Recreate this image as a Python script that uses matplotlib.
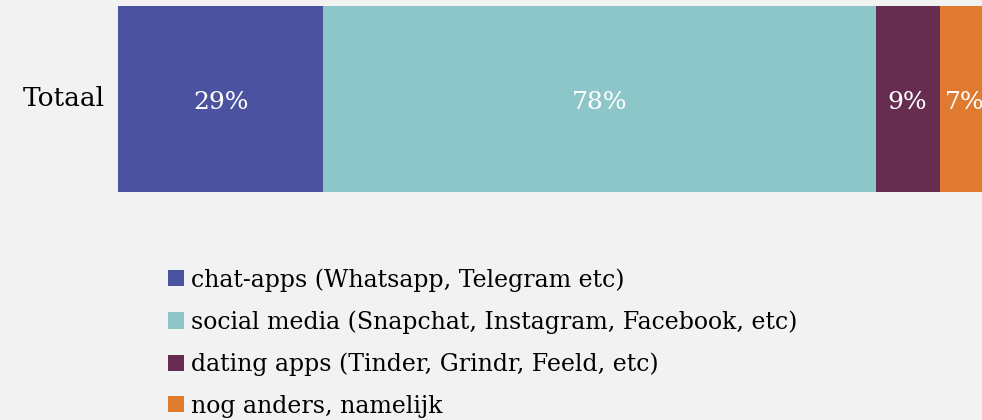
import matplotlib
matplotlib.use("Agg")
import matplotlib.pyplot as plt

categories = ["Totaal"]
series_names = [
    "chat-apps (Whatsapp, Telegram etc)",
    "social media (Snapchat, Instagram, Facebook, etc)",
    "dating apps (Tinder, Grindr, Feeld, etc)",
    "nog anders, namelijk",
]
values = [29, 78, 9, 7]
colors = ["#4B53A0", "#8CC6C8", "#662D50", "#E07A30"]

plt.rcParams["font.family"] = ["DejaVu Serif"]
bg = "#F2F2F2"
fs = 18
lfs = 17
fig = plt.figure(figsize=(9.82, 4.2), dpi=100, facecolor=bg)
ax = fig.add_axes([118 / 982, 1 - 192 / 420, 1 - 118 / 982, 186 / 420])
ax.set_facecolor(bg)

left = 0
handles = []
for name, v, c in zip(series_names, values, colors):
    b = ax.barh(0, v, left=left, height=1.0, color=c, label=name)
    handles.append(b)
    ax.text(left + v / 2, -0.054, f"{v}%", ha="center", va="baseline",
            color="white", fontsize=fs)
    left += v

ax.set_xlim(0, 122.0)
ax.set_ylim(-0.5, 0.5)
ax.set_yticks([])
ax.text(-13 / 7.07, -0.04, categories[0], ha="right", va="baseline",
        fontsize=19, color="black")
ax.set_xticks([])
for s in ax.spines.values():
    s.set_visible(False)

fig.legend(handles=handles, labels=series_names, loc="upper left",
           bbox_to_anchor=(168 / 982, 1 - 268 / 420), frameon=False,
           fontsize=lfs, handlelength=0.68, handleheight=0.68,
           handletextpad=0.3, labelspacing=0.79, borderpad=0, borderaxespad=0)

fig.savefig("out.png", dpi=100, facecolor=bg)
